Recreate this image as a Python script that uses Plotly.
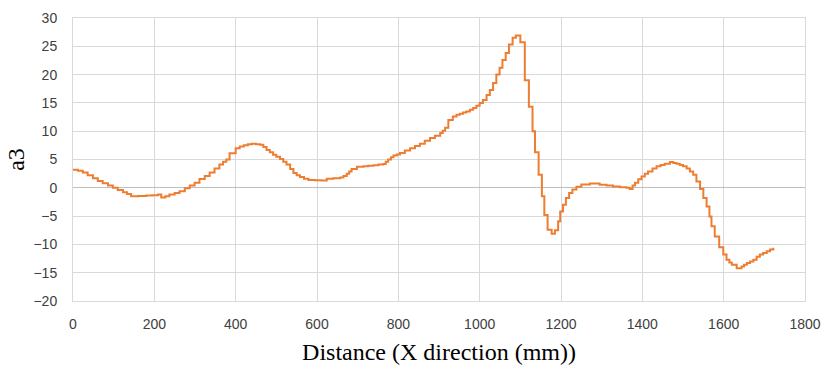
import plotly.graph_objects as go

x_mm = [0, 12, 24, 36, 49, 61, 73, 86, 98, 110, 123, 133, 143, 160, 180, 195, 209, 217, 227, 237,
        250, 262, 275, 287, 299, 311, 324, 336, 348, 360, 369, 377, 385, 400, 410, 420, 430, 440, 450, 460,
        468, 476, 484, 492, 500, 509, 517, 525, 534, 542, 550, 558, 568, 579, 595, 611, 624, 640, 657, 665,
        673, 679, 685, 698, 714, 726, 739, 751, 763, 769, 775, 782, 788, 796, 804, 816, 829, 841, 853, 865,
        878, 890, 903, 909, 915, 923, 934, 943, 951, 959, 967, 976, 984, 992, 1000, 1008, 1017, 1025, 1033, 1041,
        1049, 1056, 1064, 1072, 1081, 1089, 1100, 1111, 1121, 1130, 1136, 1145, 1153, 1159, 1167, 1177, 1185, 1193, 1198, 1205,
        1212, 1220, 1228, 1238, 1250, 1271, 1295, 1312, 1328, 1345, 1361, 1369, 1376, 1382, 1390, 1398, 1406, 1414, 1425, 1435,
        1445, 1455, 1468, 1476, 1484, 1492, 1500, 1509, 1517, 1525, 1533, 1542, 1550, 1558, 1565, 1570, 1578, 1589, 1599, 1607,
        1614, 1620, 1632, 1644, 1650, 1657, 1665, 1673, 1681, 1689, 1697, 1706, 1714, 1722]

a3 = [3.2, 3.0, 2.7, 2.2, 1.7, 1.2, 0.8, 0.4, 0.0, -0.4, -0.8, -1.1, -1.5, -1.45, -1.35, -1.3, -1.2, -1.7, -1.5, -1.2,
      -0.9, -0.6, -0.1, 0.4, 0.9, 1.55, 2.1, 2.7, 3.4, 4.1, 4.6, 5.0, 6.1, 7.0, 7.3, 7.5, 7.7, 7.8, 7.7, 7.6,
      7.2, 6.7, 6.3, 5.85, 5.5, 5.1, 4.6, 4.1, 3.3, 2.6, 2.2, 1.9, 1.6, 1.4, 1.35, 1.3, 1.6, 1.7, 1.8, 2.1,
      2.5, 2.9, 3.3, 3.7, 3.8, 3.9, 4.0, 4.1, 4.2, 4.6, 5.0, 5.4, 5.7, 5.9, 6.15, 6.6, 7.0, 7.4, 7.8, 8.3,
      8.8, 9.2, 9.7, 10.1, 10.6, 12.0, 12.6, 12.9, 13.1, 13.3, 13.5, 13.8, 14.1, 14.5, 15.0, 15.5, 16.4, 17.3, 18.5, 20.0,
      21.2, 22.6, 23.8, 25.3, 26.5, 26.9, 25.7, 19.0, 14.3, 10.0, 6.3, 2.3, -1.5, -4.8, -7.4, -8.1, -7.5, -5.9, -4.2, -3.0,
      -1.8, -0.9, -0.3, 0.2, 0.6, 0.75, 0.55, 0.4, 0.25, 0.1, 0.0, -0.2, 0.4, 0.9, 1.5, 2.0, 2.5, 2.9, 3.4, 3.8,
      4.05, 4.25, 4.55, 4.4, 4.25, 4.05, 3.8, 3.4, 2.9, 2.3, 1.1, -0.2, -1.8, -3.3, -5.05, -6.8, -8.6, -10.5, -11.8, -12.7,
      -13.2, -13.6, -14.2, -13.9, -13.6, -13.3, -13.0, -12.7, -12.2, -11.8, -11.5, -11.2, -10.9, -10.6]

x_ticks = [0, 200, 400, 600, 800, 1000, 1200, 1400, 1600, 1800]
y_ticks = [-20, -15, -10, -5, 0, 5, 10, 15, 20, 25, 30]

fig = go.Figure()
fig.add_trace(go.Scatter(x=x_mm, y=a3, mode="lines", line=dict(color="#ED7D31", width=2, shape="hv"),
                         showlegend=False, hoverinfo="x+y"))

grid = "#d9d9d9"
tickfont = dict(family="Liberation Sans, Arial, sans-serif", size=14, color="#404040")
fig.update_layout(
    width=828, height=373,
    margin=dict(l=73, r=23, t=18, b=72),
    paper_bgcolor="white", plot_bgcolor="white",
    xaxis=dict(range=[0, 1800], tickvals=x_ticks, showgrid=True, gridcolor=grid, gridwidth=1,
               showline=True, linecolor=grid, linewidth=1, mirror=True, zeroline=False,
               automargin=False,
               ticks="outside", ticklen=10, tickcolor="rgba(0,0,0,0)", tickfont=tickfont,
               title=dict(text="Distance (X direction (mm))", standoff=12,
                          font=dict(family="Liberation Serif, Times New Roman, serif", size=24, color="black"))),
    yaxis=dict(range=[-20, 30], tickvals=y_ticks, showgrid=True, gridcolor=grid, gridwidth=1,
               showline=True, linecolor=grid, linewidth=1, mirror=True,
               zeroline=True, zerolinecolor="#bfbfbf", zerolinewidth=1,
               automargin=False,
               ticks="outside", ticklen=12, tickcolor="rgba(0,0,0,0)", tickfont=tickfont,
               title=dict(text="a3", standoff=2,
                          font=dict(family="Liberation Serif, Times New Roman, serif", size=24, color="black"))),
)

fig.write_html("out.html")
